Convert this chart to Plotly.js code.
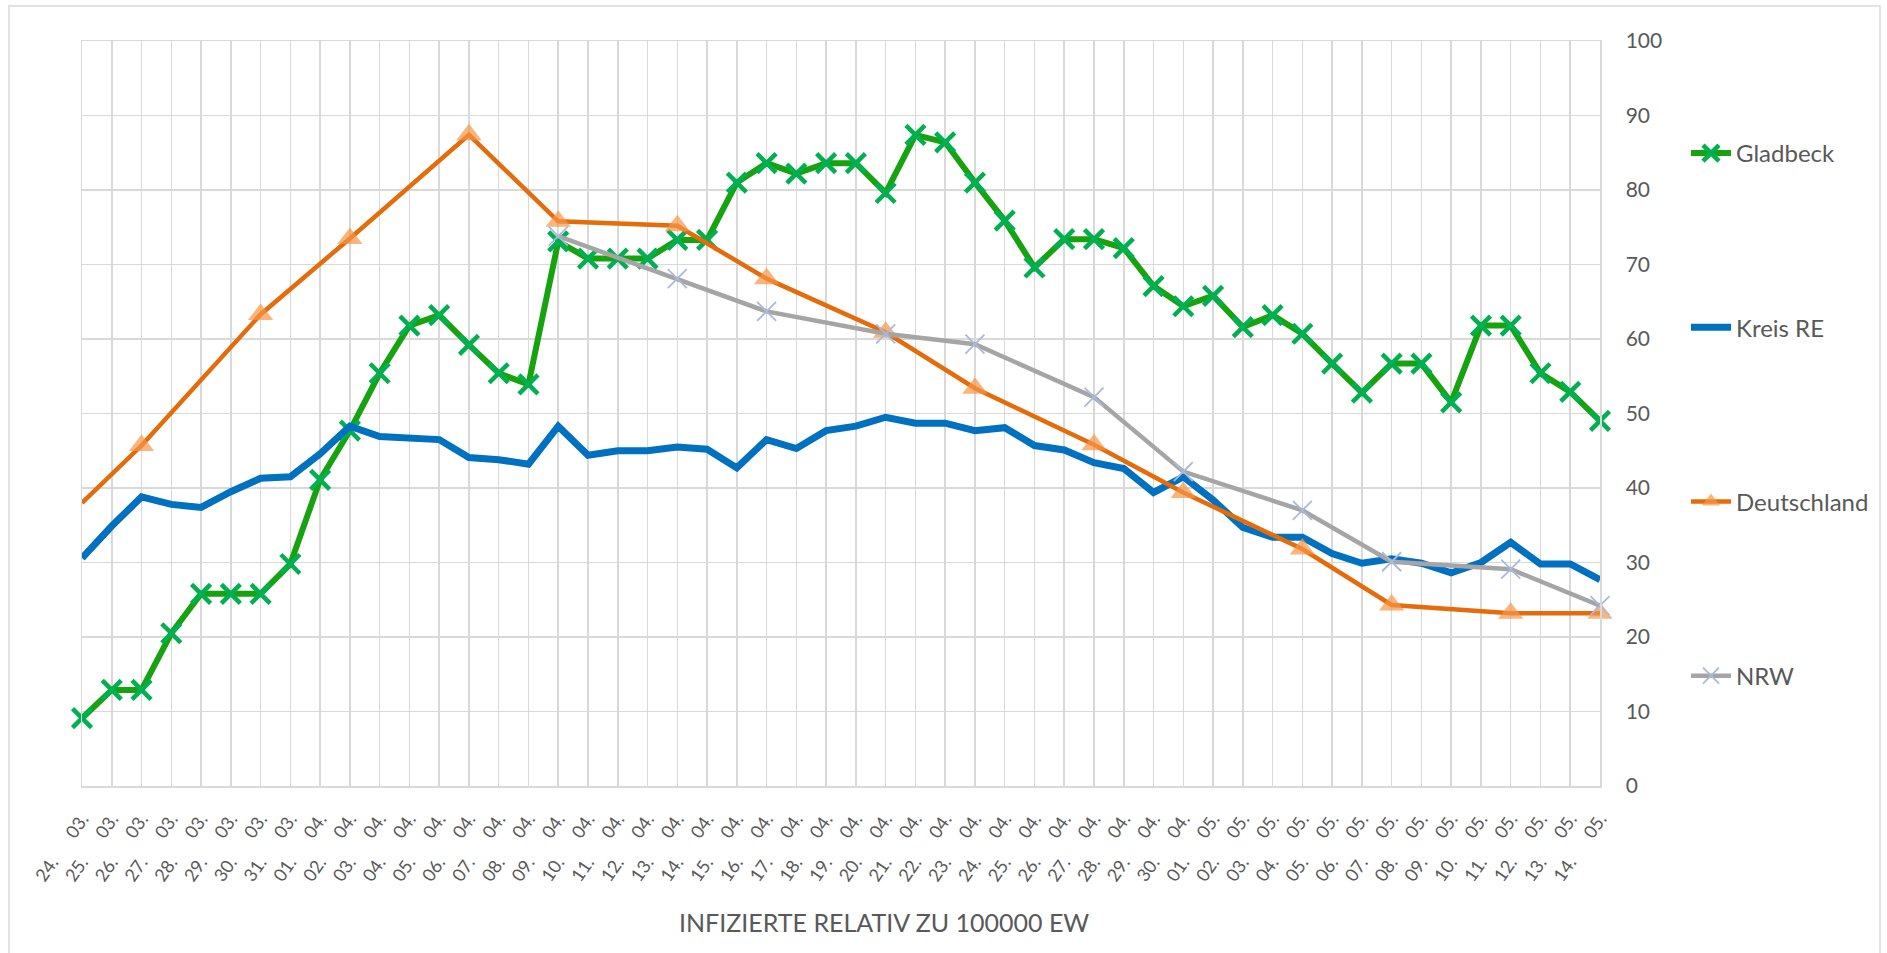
<!DOCTYPE html>
<html>
<head>
<meta charset="utf-8">
<script src="https://cdn.plot.ly/plotly-3.0.1.min.js"></script>
<style>html,body{margin:0;padding:0;background:#fff;}#chart{width:1887px;height:953px;}</style>
</head>
<body>
<div id="chart"></div>
<script>
// Categories (dates)
const dates = [
 '24. 03.','25. 03.','26. 03.','27. 03.','28. 03.','29. 03.','30. 03.','31. 03.',
 '01. 04.','02. 04.','03. 04.','04. 04.','05. 04.','06. 04.','07. 04.','08. 04.','09. 04.','10. 04.',
 '11. 04.','12. 04.','13. 04.','14. 04.','15. 04.','16. 04.','17. 04.','18. 04.','19. 04.','20. 04.',
 '21. 04.','22. 04.','23. 04.','24. 04.','25. 04.','26. 04.','27. 04.','28. 04.','29. 04.','30. 04.',
 '01. 05.','02. 05.','03. 05.','04. 05.','05. 05.','06. 05.','07. 05.','08. 05.','09. 05.','10. 05.',
 '11. 05.','12. 05.','13. 05.','14. 05.'
];

// Series values (infected per 100000 inhabitants)
const gladbeck = [9.1, 12.9, 12.9, 20.5, 25.8, 25.8, 25.8, 29.8, 41.1, 47.7,
  55.4, 61.8, 63.2, 59.2, 55.4, 53.9, 73.1, 70.8, 70.8, 70.8,
  73.3, 73.3, 81.0, 83.6, 82.2, 83.6, 83.6, 79.6, 87.4, 86.4,
  81.0, 75.9, 69.6, 73.4, 73.4, 72.2, 67.1, 64.4, 65.8, 61.6,
  63.2, 60.7, 56.7, 52.8, 56.7, 56.7, 51.5, 61.8, 61.8, 55.4,
  52.9, 49.0];

const kreisRE = [30.6, 34.9, 38.8, 37.8, 37.4, 39.5, 41.3, 41.5, 44.6, 48.3,
  46.9, 46.8, 46.5, 44.1, 43.8, 43.2, 48.3, 44.4, 45.0, 45.0,
  45.5, 45.2, 42.7, 46.5, 45.3, 47.7, 48.3, 49.5, 48.7, 48.7,
  47.7, 48.1, 45.7, 45.1, 43.4, 42.6, 39.4, 41.5, 38.4, 34.7,
  33.4, 33.4, 31.2, 29.9, 30.5, 29.9, 28.6, 30.0, 32.7, 29.8,
  29.8, 27.7];

const deDates = ['24. 03.','26. 03.','30. 03.','02. 04.','06. 04.','09. 04.','13. 04.','16. 04.',
  '20. 04.','23. 04.','27. 04.','30. 04.','04. 05.','07. 05.','11. 05.','14. 05.'];
const deutschland = [38.0, 45.7, 63.3, 73.5, 87.4, 75.8, 75.2, 68.1,
  60.9, 53.4, 45.8, 39.4, 31.8, 24.3, 23.2, 23.2];

const nrwDates = ['09. 04.','13. 04.','16. 04.','20. 04.','23. 04.','27. 04.','30. 04.',
  '04. 05.','07. 05.','11. 05.','14. 05.'];
const nrw = [73.8, 68.1, 63.7, 60.7, 59.3, 52.2, 42.2, 37.0, 30.1, 29.1, 24.2];

const yTicks = [0, 10, 20, 30, 40, 50, 60, 70, 80, 90, 100];
const axisTitle = 'INFIZIERTE RELATIV ZU 100000 EW';

// tick label text (wide gap between day and month)
const tickLabels = dates.map(d => d.replace(' ', '\u00A0'.repeat(6)));

const FONT = 'Lato, "Open Sans", sans-serif';
const GRID = '#D9D9D9';
const TXT = '#595959';

const traces = [
  {
    name: 'Gladbeck', legendgroup: 'g1', x: dates, y: gladbeck, type: 'scatter', mode: 'lines+markers',
    line: {color: '#17A20F', width: 6},
    marker: {symbol: 'x-thin', size: 19, line: {color: '#00B050', width: 4.5}, color: '#00B050'},
    cliponaxis: false
  },
  {
    name: 'Kreis RE', legendgroup: 'g2', x: dates, y: kreisRE, type: 'scatter', mode: 'lines',
    line: {color: '#0070C0', width: 7}, cliponaxis: false
  },
  {
    name: 'Deutschland', legendgroup: 'g3', x: deDates, y: deutschland, type: 'scatter', mode: 'lines+markers',
    line: {color: '#E46C0A', width: 4.5},
    marker: {symbol: 'triangle-up', size: deutschland.map((v, i) => i === 0 ? 0 : 22), color: '#F79646', line: {width: 0}},
    cliponaxis: false
  },
  {
    name: 'NRW', legendgroup: 'g4', x: nrwDates, y: nrw, type: 'scatter', mode: 'lines+markers',
    line: {color: '#A5A5A5', width: 4.5},
    marker: {symbol: 'x-thin', size: 19, line: {color: '#A9B9DC', width: 1.8}, color: '#A9B9DC'},
    cliponaxis: false
  }
];

const W = 1887, H = 953;
const L = 82, R = 1600, T = 41, B = 786;
const px = v => (v - L) / (R - L);
const py = v => (B - v) / (B - T);

const layout = {
  width: W, height: H,
  margin: {l: L, r: W - R, t: T, b: H - B, pad: 0},
  paper_bgcolor: '#ffffff', plot_bgcolor: '#ffffff',
  font: {family: FONT, color: TXT},
  showlegend: true,
  legend: {
    x: px(1686), y: py(131), xanchor: 'left', yanchor: 'top',
    font: {family: FONT, size: 24, color: TXT},
    tracegroupgap: 140, itemwidth: 40, bgcolor: 'rgba(0,0,0,0)'
  },
  xaxis: {
    type: 'category', categoryorder: 'array', categoryarray: dates,
    tickmode: 'array', tickvals: dates, ticktext: tickLabels,
    range: [0, dates.length - 1],
    showgrid: true, gridcolor: GRID, gridwidth: 1.5,
    showline: true, linecolor: GRID, linewidth: 1.5, mirror: true,
    ticks: '', tickangle: -55, ticklabelstandoff: 14,
    tickfont: {family: FONT, size: 18, color: TXT},
    zeroline: false, fixedrange: true
  },
  yaxis: {
    side: 'right', range: [0, 100], tickmode: 'array', tickvals: yTicks,
    showgrid: true, gridcolor: GRID, gridwidth: 1.5,
    showline: true, linecolor: GRID, linewidth: 1.5, mirror: true,
    ticks: '', ticklabelstandoff: 20,
    tickfont: {family: FONT, size: 21, color: TXT},
    zeroline: false, fixedrange: true
  },
  annotations: [{
    text: axisTitle, xref: 'paper', yref: 'paper', x: px(884), y: py(922),
    xanchor: 'center', yanchor: 'middle', showarrow: false,
    font: {family: FONT, size: 25, color: TXT}
  }],
  shapes: [{
    type: 'rect', xref: 'paper', yref: 'paper', layer: 'below',
    x0: px(9), x1: px(1880), y0: py(975), y1: py(6),
    line: {color: GRID, width: 1.5}, fillcolor: 'rgba(0,0,0,0)'
  }]
};

Plotly.newPlot('chart', traces, layout, {displayModeBar: false, staticPlot: true});
</script>
</body>
</html>
